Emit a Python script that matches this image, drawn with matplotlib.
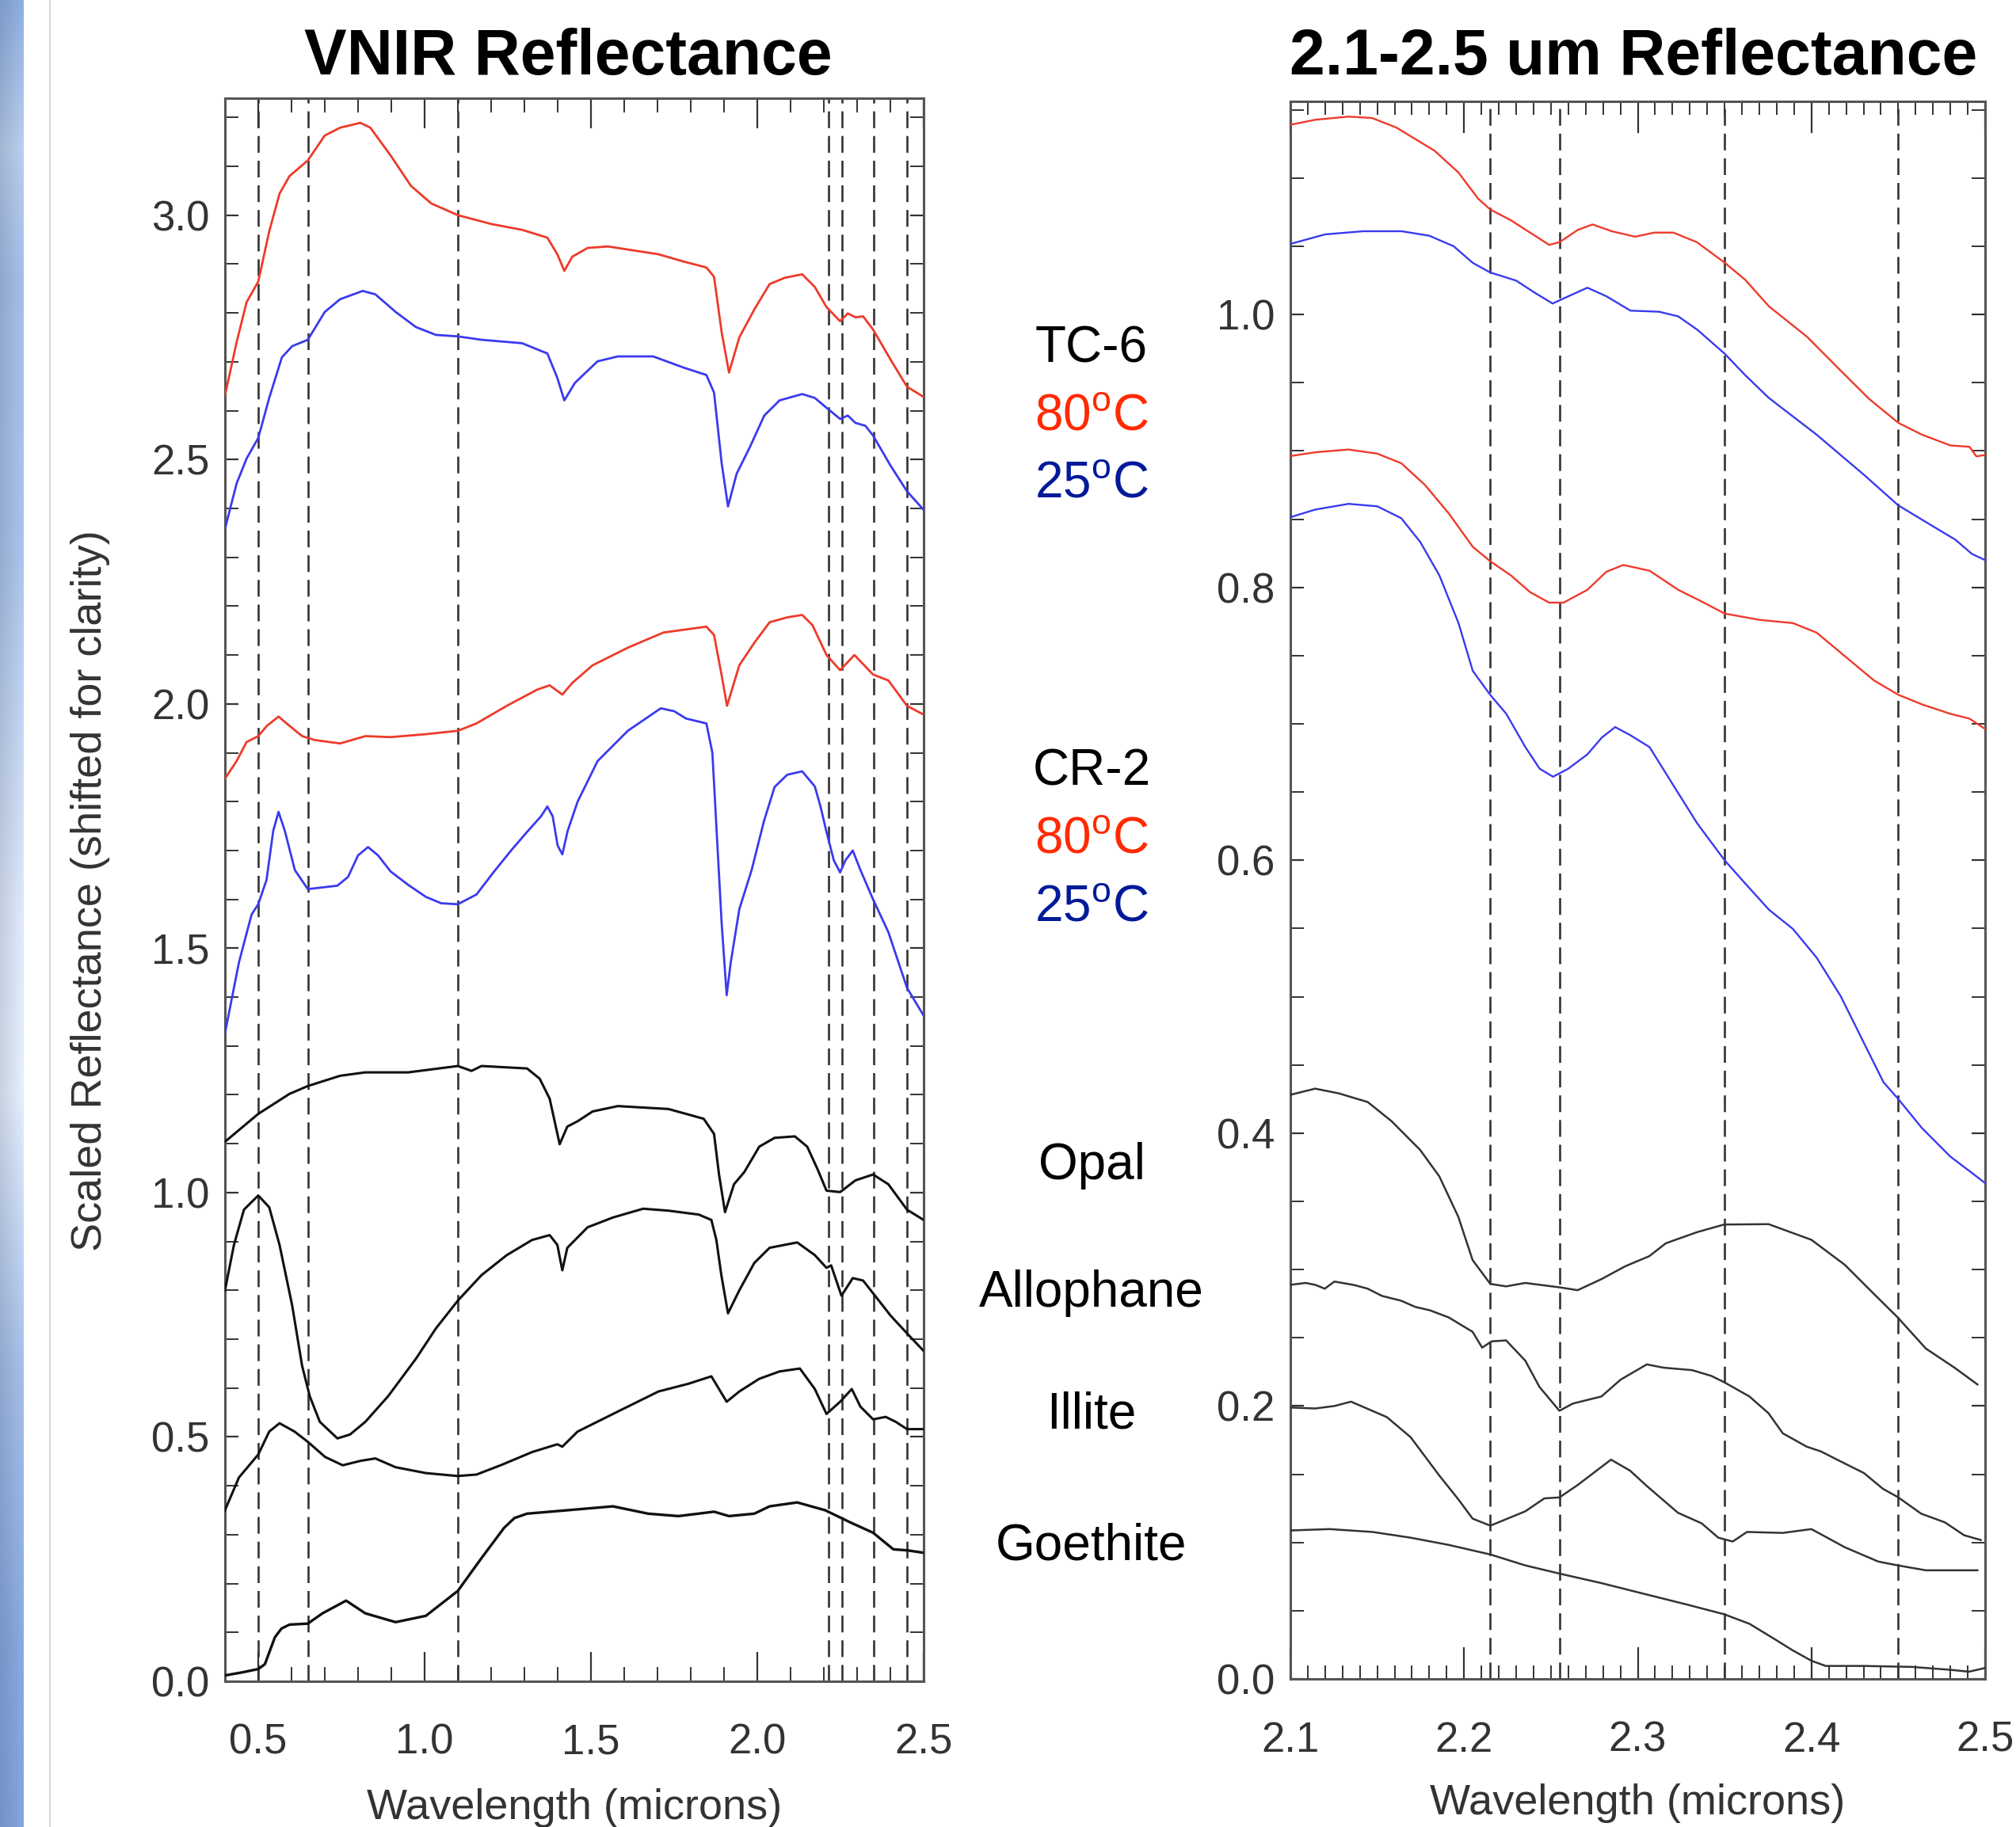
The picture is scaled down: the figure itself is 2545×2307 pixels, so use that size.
import numpy as np
import matplotlib
matplotlib.use("Agg")
import matplotlib.pyplot as plt
from matplotlib.ticker import MultipleLocator, FormatStrFormatter
from matplotlib.lines import Line2D
from matplotlib import font_manager

# ---------------- data: VNIR panel ----------------
tc6_80_x = [0.40, 0.435, 0.465, 0.50, 0.533, 0.564, 0.594, 0.649, 0.70, 0.746, 0.807, 0.837, 0.898, 0.959,
            1.02, 1.10, 1.20, 1.293, 1.369, 1.399, 1.42, 1.444, 1.49, 1.551, 1.703, 1.779, 1.847, 1.87,
            1.893, 1.915, 1.946, 1.991, 2.037, 2.083, 2.135, 2.173, 2.208, 2.249, 2.272, 2.295, 2.318,
            2.348, 2.401, 2.45, 2.50]
tc6_80_y = [2.631, 2.74, 2.822, 2.864, 2.967, 3.044, 3.08, 3.112, 3.163, 3.179, 3.189, 3.179, 3.122, 3.06,
            3.024, 3.0, 2.982, 2.97, 2.954, 2.92, 2.886, 2.915, 2.933, 2.936, 2.92, 2.905, 2.893, 2.874,
            2.76, 2.678, 2.75, 2.807, 2.859, 2.872, 2.879, 2.853, 2.812, 2.783, 2.799, 2.791, 2.793,
            2.766, 2.704, 2.649, 2.628]

tc6_25_x = [0.40, 0.435, 0.465, 0.50, 0.533, 0.571, 0.602, 0.649, 0.70, 0.746, 0.814, 0.852, 0.913, 0.974,
            1.034, 1.10, 1.171, 1.293, 1.369, 1.399, 1.42, 1.452, 1.52, 1.581, 1.687, 1.779, 1.847, 1.87,
            1.893, 1.912, 1.938, 1.976, 2.021, 2.067, 2.135, 2.173, 2.208, 2.249, 2.272, 2.295, 2.325,
            2.348, 2.401, 2.45, 2.50]
tc6_25_y = [2.358, 2.451, 2.502, 2.544, 2.626, 2.709, 2.732, 2.745, 2.802, 2.828, 2.845, 2.838, 2.802, 2.771,
            2.755, 2.752, 2.745, 2.738, 2.717, 2.667, 2.621, 2.657, 2.701, 2.711, 2.711, 2.688, 2.673, 2.637,
            2.492, 2.404, 2.471, 2.523, 2.59, 2.621, 2.634, 2.626, 2.606, 2.583, 2.59, 2.575, 2.569,
            2.549, 2.487, 2.435, 2.397]

cr2_80_x = [0.40, 0.435, 0.465, 0.50, 0.526, 0.561, 0.594, 0.632, 0.67, 0.746, 0.822, 0.898, 1.004, 1.10,
            1.156, 1.247, 1.338, 1.376, 1.414, 1.444, 1.505, 1.611, 1.718, 1.847, 1.87, 1.893, 1.909,
            1.946, 1.991, 2.037, 2.09, 2.135, 2.166, 2.208, 2.249, 2.292, 2.348, 2.394, 2.45, 2.50]
cr2_80_y = [1.847, 1.883, 1.922, 1.934, 1.955, 1.974, 1.955, 1.934, 1.926, 1.919, 1.934, 1.932, 1.938, 1.945,
            1.96, 1.996, 2.029, 2.038, 2.019, 2.043, 2.079, 2.115, 2.146, 2.158, 2.141, 2.058, 1.996,
            2.079, 2.125, 2.167, 2.177, 2.182, 2.161, 2.10, 2.069, 2.10, 2.06, 2.048, 1.996, 1.978]

cr2_25_x = [0.40, 0.442, 0.48, 0.50, 0.525, 0.545, 0.561, 0.58, 0.61, 0.649, 0.70, 0.738, 0.77, 0.80, 0.83,
            0.86, 0.898, 0.95, 1.004, 1.05, 1.10, 1.156, 1.209, 1.26, 1.308, 1.35, 1.369, 1.385, 1.40,
            1.414, 1.43, 1.46, 1.52, 1.611, 1.71, 1.75, 1.786, 1.847, 1.865, 1.877, 1.893, 1.908, 1.92,
            1.946, 1.983, 2.02, 2.052, 2.09, 2.135, 2.173, 2.19, 2.208, 2.23, 2.249, 2.265, 2.287, 2.31,
            2.348, 2.394, 2.45, 2.50]
cr2_25_y = [1.326, 1.471, 1.569, 1.59, 1.64, 1.74, 1.779, 1.74, 1.66, 1.621, 1.625, 1.628, 1.646, 1.69, 1.707,
            1.69, 1.657, 1.63, 1.605, 1.592, 1.59, 1.61, 1.657, 1.70, 1.738, 1.77, 1.79, 1.77, 1.71,
            1.692, 1.74, 1.80, 1.883, 1.945, 1.991, 1.985, 1.97, 1.96, 1.90, 1.75, 1.55, 1.404, 1.47,
            1.58, 1.66, 1.76, 1.83, 1.855, 1.862, 1.831, 1.79, 1.738, 1.68, 1.655, 1.68, 1.70, 1.66,
            1.60, 1.533, 1.419, 1.362]

opal_x = [0.40, 0.50, 0.594, 0.649, 0.746, 0.822, 0.951, 1.10, 1.141, 1.171, 1.308, 1.346, 1.376, 1.406,
          1.429, 1.46, 1.505, 1.581, 1.733, 1.839, 1.87, 1.885, 1.903, 1.93, 1.961, 2.006, 2.052, 2.113,
          2.15, 2.181, 2.208, 2.249, 2.295, 2.348, 2.394, 2.45, 2.50]
opal_y = [1.104, 1.161, 1.202, 1.218, 1.239, 1.246, 1.246, 1.259, 1.249, 1.259, 1.254, 1.233, 1.192, 1.099,
          1.135, 1.146, 1.166, 1.177, 1.171, 1.151, 1.12, 1.037, 0.96, 1.017, 1.042, 1.094, 1.112, 1.115,
          1.094, 1.048, 1.004, 1.001, 1.025, 1.037, 1.017, 0.965, 0.944]

allo_x = [0.40, 0.427, 0.457, 0.50, 0.533, 0.564, 0.602, 0.632, 0.655, 0.685, 0.738, 0.776, 0.822, 0.89,
          0.974, 1.034, 1.10, 1.171, 1.247, 1.323, 1.376, 1.399, 1.414, 1.429, 1.49, 1.566, 1.657, 1.733,
          1.824, 1.862, 1.877, 1.892, 1.912, 1.946, 1.991, 2.037, 2.12, 2.173, 2.208, 2.222, 2.253, 2.287,
          2.318, 2.348, 2.401, 2.45, 2.50]
allo_y = [0.80, 0.893, 0.965, 0.994, 0.97, 0.893, 0.769, 0.645, 0.583, 0.531, 0.497, 0.505, 0.531, 0.583,
          0.66, 0.722, 0.779, 0.831, 0.872, 0.903, 0.913, 0.893, 0.841, 0.887, 0.929, 0.949, 0.967, 0.963,
          0.955, 0.944, 0.903, 0.831, 0.753, 0.80, 0.856, 0.887, 0.898, 0.872, 0.846, 0.851, 0.789, 0.825,
          0.82, 0.794, 0.748, 0.712, 0.676]

illite_x = [0.40, 0.442, 0.50, 0.533, 0.564, 0.609, 0.649, 0.701, 0.754, 0.807, 0.852, 0.913, 1.004, 1.10,
            1.156, 1.232, 1.323, 1.399, 1.414, 1.46, 1.581, 1.703, 1.794, 1.862, 1.885, 1.908, 1.946,
            2.006, 2.067, 2.128, 2.173, 2.208, 2.249, 2.284, 2.31, 2.348, 2.386, 2.416, 2.45, 2.50]
illite_y = [0.35, 0.417, 0.464, 0.511, 0.528, 0.511, 0.49, 0.459, 0.442, 0.451, 0.456, 0.438, 0.426, 0.42,
            0.423, 0.443, 0.469, 0.485, 0.48, 0.511, 0.552, 0.593, 0.609, 0.624, 0.598, 0.572, 0.593,
            0.619, 0.634, 0.64, 0.598, 0.547, 0.572, 0.598, 0.562, 0.536, 0.541, 0.531, 0.516, 0.516]

goe_x = [0.40, 0.45, 0.50, 0.52, 0.55, 0.57, 0.594, 0.649, 0.693, 0.764, 0.822, 0.913, 1.004, 1.10, 1.171,
         1.239, 1.27, 1.308, 1.429, 1.566, 1.672, 1.763, 1.87, 1.915, 1.991, 2.037, 2.12, 2.204, 2.28, 2.348,
         2.409, 2.45, 2.50]
goe_y = [0.012, 0.018, 0.025, 0.035, 0.09, 0.108, 0.116, 0.118, 0.139, 0.165, 0.139, 0.121, 0.134, 0.185,
         0.252, 0.314, 0.334, 0.343, 0.35, 0.358, 0.343, 0.338, 0.347, 0.338, 0.343, 0.358, 0.366, 0.35,
         0.325, 0.304, 0.27, 0.268, 0.263]

# ---------------- data: 2.1-2.5 um panel ----------------
r_tc6_80_x = [2.1, 2.1143, 2.1335, 2.147, 2.161, 2.183, 2.1968, 2.208, 2.215, 2.227, 2.238, 2.249, 2.255,
              2.2655, 2.274, 2.285, 2.2985, 2.3095, 2.3205, 2.334, 2.35, 2.3618, 2.3755, 2.3975, 2.4167,
              2.4333, 2.45, 2.4635, 2.48, 2.491, 2.495, 2.5]
r_tc6_80_y = [1.139, 1.1427, 1.145, 1.144, 1.137, 1.12, 1.104, 1.085, 1.077, 1.069, 1.06, 1.051, 1.053,
              1.062, 1.066, 1.061, 1.057, 1.06, 1.06, 1.053, 1.038, 1.0255, 1.006, 0.9836, 0.959,
              0.938, 0.9206, 0.912, 0.904, 0.903, 0.896, 0.897]

r_tc6_25_x = [2.1, 2.12, 2.142, 2.164, 2.18, 2.194, 2.205, 2.215, 2.23, 2.241, 2.251, 2.26, 2.271, 2.282,
              2.2958, 2.3123, 2.3233, 2.3343, 2.35, 2.3618, 2.3755, 2.403, 2.4305, 2.45, 2.469, 2.4828,
              2.4924, 2.5]
r_tc6_25_y = [1.0517, 1.0587, 1.061, 1.061, 1.0577, 1.05, 1.0378, 1.0308, 1.0248, 1.0157, 1.008, 1.0133,
              1.0196, 1.0133, 1.0028, 1.002, 0.9986, 0.9888, 0.9713, 0.9556, 0.9388, 0.9119, 0.8822,
              0.8601, 0.8455, 0.835, 0.8245, 0.82]

r_cr2_80_x = [2.1, 2.1143, 2.1335, 2.15, 2.1638, 2.1775, 2.1913, 2.205, 2.215, 2.227, 2.238, 2.249, 2.2573,
              2.271, 2.282, 2.2917, 2.3068, 2.3233, 2.337, 2.35, 2.37, 2.3893, 2.403, 2.4195, 2.436, 2.45,
              2.4635, 2.48, 2.491, 2.5]
r_cr2_80_y = [0.8962, 0.899, 0.901, 0.898, 0.891, 0.875, 0.854, 0.8297, 0.8192, 0.8087, 0.7965, 0.7888,
              0.7888, 0.7982, 0.8115, 0.8164, 0.8122, 0.7982, 0.7895, 0.7808, 0.7762, 0.7738, 0.7668,
              0.7493, 0.7318, 0.7213, 0.7143, 0.7073, 0.7038, 0.6962]

r_cr2_25_x = [2.1, 2.1143, 2.1335, 2.15, 2.1638, 2.1748, 2.1858, 2.1968, 2.205, 2.215, 2.2243, 2.2353,
              2.2435, 2.2512, 2.26, 2.271, 2.2793, 2.287, 2.2958, 2.3068, 2.3205, 2.3343, 2.35, 2.3618,
              2.3755, 2.3893, 2.403, 2.4168, 2.4305, 2.4415, 2.45, 2.4635, 2.48, 2.491, 2.5]
r_cr2_25_y = [0.8514, 0.857, 0.8612, 0.8594, 0.8507, 0.8332, 0.8087, 0.7738, 0.7388, 0.7213, 0.7073,
              0.6829, 0.6671, 0.6612, 0.6671, 0.6776, 0.6899, 0.6976, 0.6916, 0.6829, 0.6549, 0.6269,
              0.60, 0.5831, 0.5638, 0.5497, 0.5286, 0.5005, 0.4654, 0.4373, 0.425, 0.4039, 0.3828,
              0.3722, 0.3634]

r_opal_x = [2.1, 2.1143, 2.128, 2.1445, 2.1582, 2.1747, 2.1857, 2.1967, 2.2049, 2.2151, 2.2242, 2.2352,
            2.2549, 2.2654, 2.2791, 2.2929, 2.3066, 2.3162, 2.3341, 2.3497, 2.3753, 2.40, 2.4192, 2.4357,
            2.4497, 2.4659, 2.4824, 2.4956]
r_opal_y = [0.4281, 0.4326, 0.4291, 0.4228, 0.4088, 0.3877, 0.3684, 0.3386, 0.307, 0.2895, 0.2877, 0.2902,
            0.287, 0.2849, 0.293, 0.3025, 0.3098, 0.3193, 0.3274, 0.333, 0.3333, 0.3218, 0.3035, 0.2825,
            0.2649, 0.2421, 0.2281, 0.2158]

r_allo_x = [2.1, 2.1088, 2.1143, 2.1198, 2.1253, 2.1363, 2.1445, 2.1527, 2.1637, 2.172, 2.1802, 2.1912,
            2.1981, 2.2049, 2.2104, 2.2159, 2.2242, 2.2352, 2.2434, 2.2549, 2.2626, 2.2791, 2.2901,
            2.3052, 2.3148, 2.3313, 2.3423, 2.3497, 2.3643, 2.3753, 2.3835, 2.3973, 2.4055, 2.4165,
            2.4302, 2.4412, 2.4497, 2.4632, 2.4769, 2.4879, 2.4975]
r_allo_y = [0.2888, 0.2902, 0.2888, 0.286, 0.2912, 0.2888, 0.286, 0.2807, 0.2772, 0.2726, 0.2702, 0.2649,
            0.2596, 0.2544, 0.2428, 0.2474, 0.2481, 0.2333, 0.214, 0.1965, 0.2018, 0.207, 0.2193,
            0.2305, 0.2281, 0.2263, 0.2221, 0.2175, 0.207, 0.1947, 0.18, 0.1702, 0.1667, 0.1596,
            0.1509, 0.1393, 0.1333, 0.1211, 0.1147, 0.1053, 0.1018]

r_illite_x = [2.1, 2.1143, 2.1253, 2.1349, 2.1555, 2.1692, 2.1857, 2.1967, 2.2049, 2.2151, 2.2352, 2.2462,
              2.2549, 2.2654, 2.2846, 2.2956, 2.3052, 2.3231, 2.3368, 2.3464, 2.3547, 2.3629, 2.3835,
              2.40, 2.4192, 2.4385, 2.4497, 2.4659, 2.4956]
r_illite_y = [0.1989, 0.1982, 0.20, 0.2032, 0.1919, 0.1772, 0.1491, 0.1316, 0.1175, 0.1123, 0.1228, 0.1323,
              0.133, 0.1421, 0.1607, 0.1526, 0.1414, 0.1218, 0.114, 0.1035, 0.1007, 0.1077, 0.107,
              0.1098, 0.0965, 0.086, 0.0832, 0.0796, 0.0796]

r_goe_x = [2.1, 2.1225, 2.1473, 2.1692, 2.1912, 2.2151, 2.2352, 2.2549, 2.2791, 2.3066, 2.3286, 2.3497,
           2.3643, 2.378, 2.389, 2.40, 2.4082, 2.4302, 2.4577, 2.4797, 2.4907, 2.5]
r_goe_y = [0.1088, 0.1098, 0.1077, 0.1035, 0.0982, 0.0912, 0.0832, 0.0772, 0.0702, 0.0614, 0.0544, 0.0474,
           0.0404, 0.0298, 0.0211, 0.0133, 0.0095, 0.0095, 0.0088, 0.0067, 0.0053, 0.008]

band_left = [0.5, 0.65, 1.1, 2.215, 2.255, 2.35, 2.45]
band_right = [2.215, 2.255, 2.35, 2.45]

left_xticks = [0.5, 1.0, 1.5, 2.0, 2.5]
left_yticks = [0.0, 0.5, 1.0, 1.5, 2.0, 2.5, 3.0]
right_xticks = [2.1, 2.2, 2.3, 2.4, 2.5]
right_yticks = [0.0, 0.2, 0.4, 0.6, 0.8, 1.0]

mid_labels = ["TC-6", "80$^{\\rm o}$C", "25$^{\\rm o}$C", "CR-2", "80$^{\\rm o}$C", "25$^{\\rm o}$C",
              "Opal", "Allophane", "Illite", "Goethite"]
mid_colors = ["black", "#ff2a00", "#001a99", "black", "#ff2a00", "#001a99",
              "black", "black", "black", "black"]
mid_ypix = [441, 527, 612, 974, 1060, 1146, 1472, 1633, 1787, 1952]

# ---------------- style ----------------
names = {f.name for f in font_manager.fontManager.ttflist}
NARROW = 'Liberation Sans Narrow' if 'Liberation Sans Narrow' in names else 'Liberation Sans'
plt.rcParams['font.family'] = ['Liberation Sans', 'DejaVu Sans']
plt.rcParams['mathtext.fontset'] = 'custom'
plt.rcParams['mathtext.rm'] = 'Liberation Sans'
plt.rcParams['mathtext.it'] = 'Liberation Sans'

W, H = 2545, 2307
fig = plt.figure(figsize=(W / 100, H / 100), dpi=100, facecolor='white')

RED = '#ee3a2a'
BLUE = '#3a3aee'
BLK = '#111111'
DGRAY = '#333333'
SPINE = '#555555'

# decorative blue strip on the left
strip = fig.add_axes([0, 0, 30 / W, 1])
strip.axis('off')
stops_pos = [0.0, 0.08, 0.15, 0.3, 0.5, 0.6, 0.75, 0.9, 1.0]
stops_col = np.array([[0.54, 0.66, 0.85], [0.70, 0.78, 0.90], [0.62, 0.72, 0.88], [0.64, 0.74, 0.89],
                      [0.84, 0.88, 0.95], [0.86, 0.90, 0.96], [0.62, 0.72, 0.88], [0.52, 0.64, 0.85],
                      [0.50, 0.62, 0.85]])
tt = np.linspace(0, 1, 300)
col = np.stack([np.interp(tt, stops_pos, stops_col[:, k]) for k in range(3)], axis=-1)
shade = np.linspace(0.92, 1.04, 10)
img = np.clip(col[:, None, :] * shade[None, :, None], 0, 1)
strip.imshow(img, aspect='auto', extent=[0, 1, 0, 1], origin='upper')
fig.add_artist(Line2D([63 / W, 63 / W], [0, 1], color='#cfcfcf', lw=1.2, transform=fig.transFigure))

TICK_FS = 38


def style_axes(ax, xmaj, xmin, ymaj, ymin, xmaj_len, xmin_len):
    for s in ax.spines.values():
        s.set_color(SPINE)
        s.set_linewidth(2.2)
    ax.xaxis.set_major_locator(MultipleLocator(xmaj))
    ax.xaxis.set_minor_locator(MultipleLocator(xmin))
    ax.yaxis.set_major_locator(MultipleLocator(ymaj))
    ax.yaxis.set_minor_locator(MultipleLocator(ymin))
    ax.tick_params(axis='x', which='major', direction='in', top=True, bottom=True,
                   length=xmaj_len, width=1.6, color=DGRAY, pad=38, labelsize=TICK_FS, labelcolor=DGRAY)
    ax.tick_params(axis='x', which='minor', direction='in', top=True, bottom=True,
                   length=xmin_len, width=1.4, color=DGRAY)
    ax.tick_params(axis='y', which='major', direction='in', left=True, right=True,
                   length=12, width=1.6, color=DGRAY, pad=14, labelsize=TICK_FS, labelcolor=DGRAY)
    ax.tick_params(axis='y', which='minor', direction='in', left=True, right=True,
                   length=12, width=1.4, color=DGRAY)


# ---------------- left panel ----------------
axL = fig.add_axes([284 / W, 1 - 2123 / H, 882 / W, (2123 - 123.6) / H])
for xv in band_left:
    axL.axvline(xv, color=DGRAY, lw=1.9, dashes=(8, 3.8), zorder=1)
axL.plot(tc6_80_x, tc6_80_y, color=RED, lw=2.0, zorder=3)
axL.plot(tc6_25_x, tc6_25_y, color=BLUE, lw=2.0, zorder=3)
axL.plot(cr2_80_x, cr2_80_y, color=RED, lw=2.0, zorder=3)
axL.plot(cr2_25_x, cr2_25_y, color=BLUE, lw=2.0, zorder=3)
axL.plot(opal_x, opal_y, color=BLK, lw=2.2, zorder=3)
axL.plot(allo_x, allo_y, color=BLK, lw=2.2, zorder=3)
axL.plot(illite_x, illite_y, color=BLK, lw=2.2, zorder=3)
axL.plot(goe_x, goe_y, color=BLK, lw=2.4, zorder=3)
axL.set_xlim(0.4, 2.5)
axL.set_ylim(0.0, 3.24)
style_axes(axL, 0.5, 0.1, 0.5, 0.1, 27, 13)
axL.set_xticks(left_xticks)
axL.set_yticks(left_yticks)
axL.xaxis.set_major_formatter(FormatStrFormatter('%.1f'))
axL.yaxis.set_major_formatter(FormatStrFormatter('%.1f'))

# ---------------- right panel ----------------
axR = fig.add_axes([1629 / W, 1 - 2120 / H, 877 / W, (2120 - 128.3) / H])
for xv in band_right:
    axR.axvline(xv, color=DGRAY, lw=1.9, dashes=(8, 3.8), zorder=1)
axR.plot(r_tc6_80_x, r_tc6_80_y, color=RED, lw=1.7, zorder=3)
axR.plot(r_tc6_25_x, r_tc6_25_y, color=BLUE, lw=1.7, zorder=3)
axR.plot(r_cr2_80_x, r_cr2_80_y, color=RED, lw=1.7, zorder=3)
axR.plot(r_cr2_25_x, r_cr2_25_y, color=BLUE, lw=1.7, zorder=3)
axR.plot(r_opal_x, r_opal_y, color='#333333', lw=1.8, zorder=3)
axR.plot(r_allo_x, r_allo_y, color='#333333', lw=1.8, zorder=3)
axR.plot(r_illite_x, r_illite_y, color='#333333', lw=1.8, zorder=3)
axR.plot(r_goe_x, r_goe_y, color='#333333', lw=1.8, zorder=3)
axR.set_xlim(2.1, 2.5)
axR.set_ylim(0.0, 1.156)
style_axes(axR, 0.1, 0.01, 0.2, 0.05, 29, 12)
axR.set_xticks(right_xticks)
axR.set_yticks(right_yticks)
axR.xaxis.set_major_formatter(FormatStrFormatter('%.1f'))
axR.yaxis.set_major_formatter(FormatStrFormatter('%.1f'))

# ---------------- titles and labels ----------------
fig.text(717 / W, 1 - 73 / H, "VNIR Reflectance", ha='center', va='center', fontsize=58,
         fontweight='bold', family=[NARROW, 'Liberation Sans'])
fig.text(2062 / W, 1 - 73 / H, "2.1-2.5 um Reflectance", ha='center', va='center', fontsize=58,
         fontweight='bold', family=[NARROW, 'Liberation Sans'])
fig.text(114 / W, 1 - 1125 / H, "Scaled Reflectance (shifted for clarity)", ha='center', va='center',
         rotation=90, fontsize=39, color=DGRAY, family=[NARROW, 'Liberation Sans'])
fig.text(725 / W, 1 - 2283 / H, "Wavelength (microns)", ha='center', va='center', fontsize=39, color=DGRAY)
fig.text(2067 / W, 1 - 2277 / H, "Wavelength (microns)", ha='center', va='center', fontsize=39, color=DGRAY)

for lab, c, yp in zip(mid_labels, mid_colors, mid_ypix):
    fig.text(1378 / W, 1 - yp / H, lab, ha='center', va='center', fontsize=46, color=c)

fig.savefig("out.png", dpi=100, facecolor='white')
